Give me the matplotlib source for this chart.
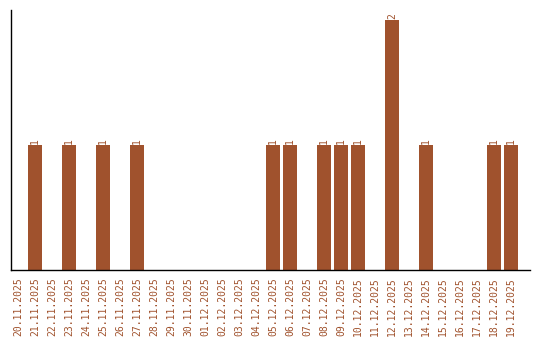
import matplotlib
matplotlib.use("Agg")
from matplotlib import pyplot as plt

# dates shown on the x axis, one per day
dates = ["20.11.2025", "21.11.2025", "22.11.2025", "23.11.2025", "24.11.2025",
         "25.11.2025", "26.11.2025", "27.11.2025", "28.11.2025", "29.11.2025",
         "30.11.2025", "01.12.2025", "02.12.2025", "03.12.2025", "04.12.2025",
         "05.12.2025", "06.12.2025", "07.12.2025", "08.12.2025", "09.12.2025",
         "10.12.2025", "11.12.2025", "12.12.2025", "13.12.2025", "14.12.2025",
         "15.12.2025", "16.12.2025", "17.12.2025", "18.12.2025", "19.12.2025"]
counts = [0, 1, 0, 1, 0, 1, 0, 1, 0, 0,
          0, 0, 0, 0, 0, 1, 1, 0, 1, 1,
          1, 0, 2, 0, 1, 0, 0, 0, 1, 1]

brown = "#a0522d"
plt.rcParams["font.family"] = "DejaVu Sans Mono"

fig = plt.figure(figsize=(5.4, 3.4), dpi=100)
ax = fig.add_axes([11 / 540, 70 / 340, 519 / 540, 260 / 340])

x = list(range(len(dates)))
ax.bar(x, counts, width=0.82, color=brown)

for i, v in zip(x, counts):
    if v > 0:
        ax.text(i, v + 0.01, str(v), rotation=90, ha="center", va="bottom",
                color=brown, fontsize=7)

ax.set_xlim(-0.41, 30.1)
ax.set_ylim(0, 2.08)
ax.set_xticks(x)
ax.set_xticklabels(dates, rotation=90, color=brown, fontsize=7)
ax.tick_params(axis="x", length=0, pad=5)
ax.set_yticks([])
ax.spines["top"].set_visible(False)
ax.spines["right"].set_visible(False)
ax.spines["left"].set_linewidth(1)
ax.spines["bottom"].set_linewidth(1)

fig.savefig("out.png", dpi=100)
